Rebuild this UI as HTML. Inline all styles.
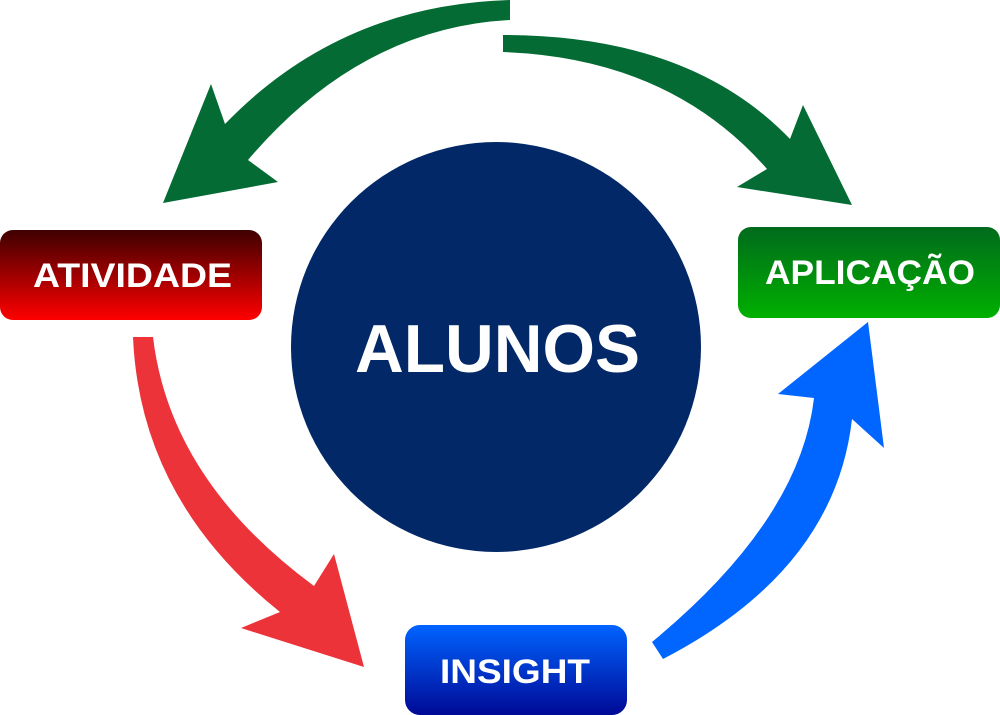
<!DOCTYPE html>
<html><head><meta charset="utf-8"><style>
html,body{margin:0;padding:0;background:#fff;}
svg{display:block;}
text{font-family:"Liberation Sans",sans-serif;font-weight:bold;fill:#fff;}
</style></head><body>
<svg width="1000" height="715" viewBox="0 0 1000 715" xmlns="http://www.w3.org/2000/svg">
<defs>
<linearGradient id="gr" x1="0" y1="0" x2="0" y2="1"><stop offset="0" stop-color="#3e0000"/><stop offset="1" stop-color="#ff0000"/></linearGradient>
<linearGradient id="gg" x1="0" y1="0" x2="0" y2="1"><stop offset="0" stop-color="#006a1c"/><stop offset="1" stop-color="#00b000"/></linearGradient>
<linearGradient id="gb" x1="0" y1="0" x2="0" y2="1"><stop offset="0" stop-color="#0064ff"/><stop offset="1" stop-color="#000a96"/></linearGradient>
</defs>
<path fill="#036b33" d="M510,0 L510,20 Q360,28 248,160 L278,182 L163,203 L211,84 L225,124 Q340,5 510,0 Z"/>
<path fill="#036b33" d="M503,35 Q690,35 790,139 L803,105 L852,205 L737,187 L767,169 Q670,58 503,52 Z"/>
<path fill="#ec333a" d="M133,337 Q140,500 280,612 L241,628 L364,667 L334,554 L314,586 Q170,480 153,337 Z"/>
<path fill="#0066ff" d="M652,642 Q800,520 814,398 L778,394 L868,322 L884,448 L852,419 Q835,570 663,659 Z"/>
<circle cx="496" cy="347" r="205" fill="#022867"/>
<text x="355" y="372" font-size="68" textLength="285" lengthAdjust="spacingAndGlyphs">ALUNOS</text>
<rect x="0" y="230" width="262" height="90" rx="13" fill="url(#gr)"/>
<text x="33" y="287" font-size="34" textLength="199" lengthAdjust="spacingAndGlyphs">ATIVIDADE</text>
<rect x="738" y="227" width="262" height="91" rx="13" fill="url(#gg)"/>
<text x="765" y="284" font-size="34" textLength="210" lengthAdjust="spacingAndGlyphs">APLICAÇÃO</text>
<rect x="405" y="625" width="222" height="90" rx="15" fill="url(#gb)"/>
<text x="440" y="683" font-size="34" textLength="150" lengthAdjust="spacingAndGlyphs">INSIGHT</text>
</svg>
</body></html>
